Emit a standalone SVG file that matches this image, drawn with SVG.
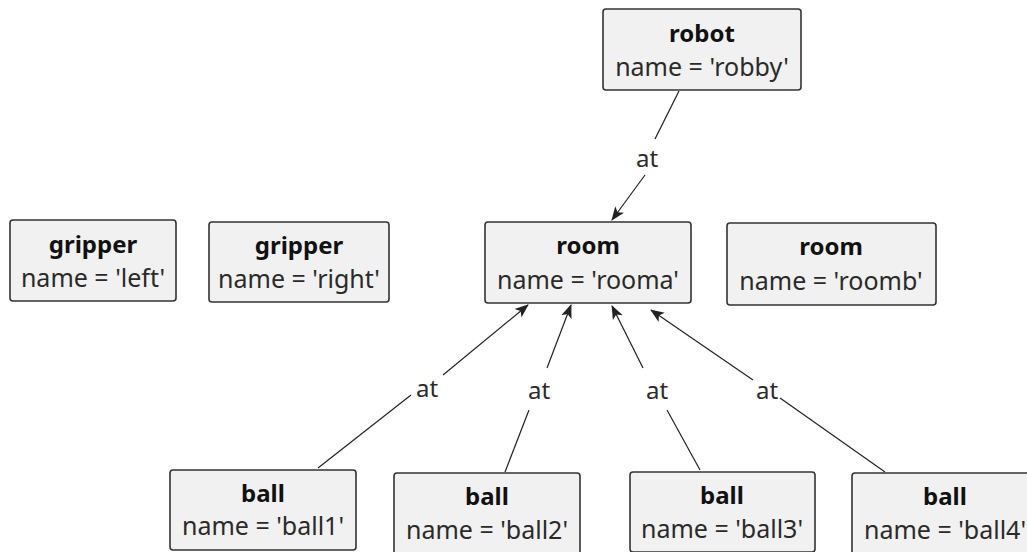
<svg xmlns="http://www.w3.org/2000/svg" width="1027" height="552" viewBox="0 0 1027 552">
<style>
.box{fill:#f1f1f1;stroke:#333;stroke-width:1.6}
.t{font-family:"Noto Sans","Open Sans",sans-serif;font-size:24px;font-weight:bold;fill:#111;text-anchor:middle}
.n{font-family:"Noto Sans","Open Sans",sans-serif;font-size:25px;fill:#2a2a2a;text-anchor:middle}
.e{stroke:#222;stroke-width:1.2;fill:none}
.l{font-family:"Noto Sans","Open Sans",sans-serif;font-size:24px;fill:#2a2a2a;text-anchor:middle}
</style>
<defs>
<marker id="arr" viewBox="0 0 14 12" refX="13" refY="6" markerWidth="14" markerHeight="12" markerUnits="userSpaceOnUse" orient="auto">
<path d="M0,0.5 L14,6 L0,11.5 L3.5,6 Z" fill="#222"/>
</marker>
</defs>
<rect width="1027" height="552" fill="#fff"/>
<g id="connectors">
<path class="e" d="M679,91 L655,139"/>
<path class="e" d="M645,175 L612,220" marker-end="url(#arr)"/>
<text class="l" x="647" y="167">at</text>
<path class="e" d="M318,468 L411,395"/>
<path class="e" d="M443,375 L528,305" marker-end="url(#arr)"/>
<text class="l" x="427" y="397">at</text>
<path class="e" d="M505,472 L529,410"/>
<path class="e" d="M547,368 L571,305" marker-end="url(#arr)"/>
<text class="l" x="539" y="399">at</text>
<path class="e" d="M700,470 L667,410"/>
<path class="e" d="M643,368 L612,306" marker-end="url(#arr)"/>
<text class="l" x="657" y="399">at</text>
<path class="e" d="M885,472 L780,398"/>
<path class="e" d="M753,380 L651,310" marker-end="url(#arr)"/>
<text class="l" x="767" y="399">at</text>
</g>
<g id="robot"><rect class="box" x="603" y="9" width="198" height="81" rx="3"/><text class="t" x="702" y="42">robot</text><text class="n" x="702" y="76">name = 'robby'</text></g>
<g id="gripper_left"><rect class="box" x="10" y="220" width="166" height="81" rx="3"/><text class="t" x="93" y="253">gripper</text><text class="n" x="93" y="287">name = 'left'</text></g>
<g id="gripper_right"><rect class="box" x="209" y="222" width="180" height="80" rx="3"/><text class="t" x="299" y="254">gripper</text><text class="n" x="299" y="288">name = 'right'</text></g>
<g id="room_a"><rect class="box" x="485" y="222" width="206" height="81" rx="3"/><text class="t" x="588" y="254">room</text><text class="n" x="588" y="289">name = 'rooma'</text></g>
<g id="room_b"><rect class="box" x="727" y="223" width="209" height="82" rx="3"/><text class="t" x="831" y="255">room</text><text class="n" x="831" y="290">name = 'roomb'</text></g>
<g id="ball1"><rect class="box" x="170" y="470" width="186" height="80" rx="3"/><text class="t" x="263" y="502">ball</text><text class="n" x="263" y="535">name = 'ball1'</text></g>
<g id="ball2"><rect class="box" x="394" y="473" width="186" height="82" rx="3"/><text class="t" x="487" y="505">ball</text><text class="n" x="487" y="539">name = 'ball2'</text></g>
<g id="ball3"><rect class="box" x="630" y="472" width="185" height="80" rx="3"/><text class="t" x="722" y="504">ball</text><text class="n" x="722" y="538">name = 'ball3'</text></g>
<g id="ball4"><rect class="box" x="852" y="473" width="186" height="82" rx="3"/><text class="t" x="945" y="505">ball</text><text class="n" x="945" y="539">name = 'ball4'</text></g>
</svg>
